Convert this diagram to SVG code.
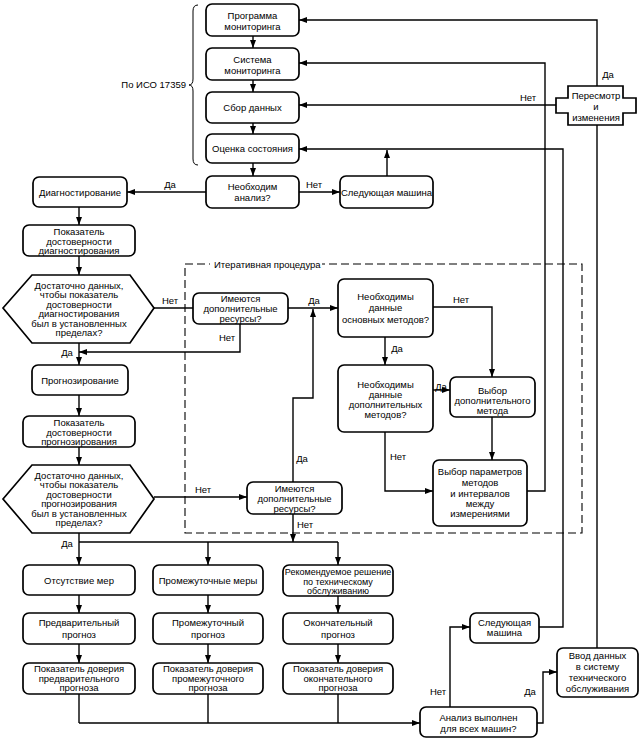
<svg xmlns="http://www.w3.org/2000/svg" width="642" height="742" viewBox="0 0 642 742">
<style>
.b{fill:#fff;stroke:#000;stroke-width:1.7}
.c{fill:none;stroke:#000;stroke-width:1.4}
.d{fill:none;stroke:#000;stroke-width:1.1;stroke-dasharray:8,4}
text{font-family:"Liberation Sans",Arial,sans-serif;font-size:9.5px;fill:#000}
.m{text-anchor:middle}
.s{font-size:9px}
</style>
<defs>
<marker id="a" viewBox="0 0 8 6" refX="8" refY="3" markerWidth="8" markerHeight="6" orient="auto" markerUnits="userSpaceOnUse"><path d="M0,0 L8,3 L0,6 z" fill="#000"/></marker>
</defs>
<rect width="642" height="742" fill="#fff"/>

<g id="iterative">
<rect class="d" x="185" y="264" width="397" height="269"/>
<rect x="210" y="258" width="112" height="12" fill="#fff"/>
<text x="214" y="268">Итеративная процедура</text>
</g>

<g id="brace">
<path class="c" style="stroke-width:1" d="M198,5 Q193,5 193,11 V79 Q193,85 189,85 Q193,85 193,91 V159 Q193,165 198,165"/>
<text x="186" y="88" text-anchor="end">По ИСО 17359</text>
</g>

<g id="connectors">
<path class="c" marker-end="url(#a)" d="M253,36 V48"/>
<path class="c" marker-end="url(#a)" d="M253,80 V92"/>
<path class="c" marker-end="url(#a)" d="M253,123 V134"/>
<path class="c" marker-end="url(#a)" d="M253,163 V176"/>
<path class="c" marker-end="url(#a)" d="M206,192 H127"/>
<path class="c" marker-end="url(#a)" d="M299,192 H340"/>
<path class="c" marker-end="url(#a)" d="M387,176 V150"/>
<path class="c" marker-end="url(#a)" d="M539,627 H563 V149 H299"/>
<path class="c" d="M597,648 V125"/>
<path class="c" marker-end="url(#a)" d="M597,86 V20 H299"/>
<path class="c" marker-end="url(#a)" d="M556,105 H299"/>
<path class="c" marker-end="url(#a)" d="M527,491 H545 V63 H299"/>
<path class="c" marker-end="url(#a)" d="M79,207 V225"/>
<path class="c" marker-end="url(#a)" d="M79,256 V275"/>
<path class="c" d="M154,308 H193"/>
<path class="c" marker-end="url(#a)" d="M79,343 V365"/>
<path class="c" marker-end="url(#a)" d="M240,324 V352 H79"/>
<path class="c" marker-end="url(#a)" d="M288,308 H338"/>
<path class="c" marker-end="url(#a)" d="M293,482 V398 H313 V309"/>
<path class="c" marker-end="url(#a)" d="M433,307 H492 V377"/>
<path class="c" marker-end="url(#a)" d="M385,337 V365"/>
<path class="c" marker-end="url(#a)" d="M433,390 H450"/>
<path class="c" marker-end="url(#a)" d="M385,432 V491 H433"/>
<path class="c" marker-end="url(#a)" d="M492,417 V460"/>
<path class="c" marker-end="url(#a)" d="M79,395 V416"/>
<path class="c" marker-end="url(#a)" d="M79,447 V465"/>
<path class="c" marker-end="url(#a)" d="M154,497 H247"/>
<path class="c" marker-end="url(#a)" d="M293,514 V542"/>
<path class="c" marker-end="url(#a)" d="M79,533 V565"/>
<path class="c" d="M79,542 H338"/>
<path class="c" marker-end="url(#a)" d="M208,542 V565"/>
<path class="c" marker-end="url(#a)" d="M338,542 V565"/>
<path class="c" marker-end="url(#a)" d="M79,595 V613"/>
<path class="c" marker-end="url(#a)" d="M208,595 V613"/>
<path class="c" marker-end="url(#a)" d="M338,596 V613"/>
<path class="c" marker-end="url(#a)" d="M79,644 V663"/>
<path class="c" marker-end="url(#a)" d="M208,644 V663"/>
<path class="c" marker-end="url(#a)" d="M338,644 V663"/>
<path class="c" d="M79,694 V723"/>
<path class="c" d="M208,694 V723"/>
<path class="c" d="M338,694 V723"/>
<path class="c" marker-end="url(#a)" d="M79,723 H420"/>
<path class="c" marker-end="url(#a)" d="M450,707 V627 H470"/>
<path class="c" marker-end="url(#a)" d="M537,723 H543 V672 H557"/>
<text x="170" y="188" class="m">Да</text>
<text x="314" y="188" class="m">Нет</text>
<text x="608" y="78" class="m">Да</text>
<text x="528" y="101" class="m">Нет</text>
<text x="170" y="304" class="m">Нет</text>
<text x="67" y="356" class="m">Да</text>
<text x="227" y="341" class="m">Нет</text>
<text x="314" y="304" class="m">Да</text>
<text x="302" y="462" class="m">Да</text>
<text x="461" y="303" class="m">Нет</text>
<text x="397" y="352" class="m">Да</text>
<text x="441" y="390" class="m">Да</text>
<text x="398" y="460" class="m">Нет</text>
<text x="203" y="493" class="m">Нет</text>
<text x="305" y="528" class="m">Нет</text>
<text x="67" y="547" class="m">Да</text>
<text x="438" y="695" class="m">Нет</text>
<text x="530" y="695" class="m">Да</text>
</g>

<g id="prog"><rect class="b" x="206" y="4" width="93" height="32" rx="6"/><text class="m" x="252.5" y="18.5">Программа</text><text class="m" x="252.5" y="29.5">мониторинга</text></g>
<g id="sys"><rect class="b" x="206" y="48" width="93" height="32" rx="6"/><text class="m" x="252.5" y="62.5">Система</text><text class="m" x="252.5" y="73.5">мониторинга</text></g>
<g id="sbor"><rect class="b" x="206" y="92" width="93" height="31" rx="6"/><text class="m" x="252.5" y="111">Сбор данных</text></g>
<g id="ocenka"><rect class="b" x="206" y="134" width="93" height="29" rx="6"/><text class="m" x="252.5" y="152">Оценка состояния</text></g>
<g id="neobh"><rect class="b" x="206" y="176" width="93" height="32" rx="6"/><text class="m" x="252.5" y="189.5">Необходим</text><text class="m" x="252.5" y="201">анализ?</text></g>
<g id="next1"><rect class="b" x="340" y="176" width="93" height="32" rx="6"/><text class="m" x="386.5" y="195.5">Следующая машина</text></g>
<g id="review"><path class="b" d="M568,86 H623 V98 H636 V113 H623 V125 H568 V113 H556 V98 H568 Z"/><text class="m" x="596" y="98.5">Пересмотр</text><text class="m" x="596" y="109.5">и</text><text class="m" x="596" y="120.5">изменения</text></g>
<g id="diag"><rect class="b" x="33" y="177" width="94" height="30" rx="6"/><text class="m" x="80" y="195.5">Диагностирование</text></g>
<g id="pokdiag"><rect class="b" x="23" y="225" width="112" height="31" rx="6"/><text class="m" x="79" y="235">Показатель</text><text class="m" x="79" y="244.5">достоверности</text><text class="m" x="79" y="254">диагностирования</text></g>
<g id="hex1"><polygon class="b" points="3,308 32,275 130,275 154,308 130,343 32,343"/><text class="m" x="79" y="288.5">Достаточно данных,</text><text class="m" x="79" y="298">чтобы показатель</text><text class="m" x="79" y="307.5">достоверности</text><text class="m" x="79" y="317">диагностирования</text><text class="m" x="79" y="326.5">был в установленных</text><text class="m" x="79" y="336">пределах?</text></g>
<g id="res1"><rect class="b" x="193" y="293" width="95" height="31" rx="6"/><text class="m" x="240.5" y="301.5">Имеются</text><text class="m" x="240.5" y="311.5">дополнительные</text><text class="m" x="240.5" y="321.5">ресурсы?</text></g>
<g id="osn"><rect class="b" x="338" y="279" width="95" height="58" rx="6"/><text class="m" x="385.5" y="299.5">Необходимы</text><text class="m" x="385.5" y="311">данные</text><text class="m" x="385.5" y="322.5">основных методов?</text></g>
<g id="dop"><rect class="b" x="338" y="365" width="95" height="67" rx="6"/><text class="m" x="385.5" y="387.5">Необходимы</text><text class="m" x="385.5" y="397.5">данные</text><text class="m" x="385.5" y="407.5">дополнительных</text><text class="m" x="385.5" y="417.5">методов?</text></g>
<g id="vybdop"><rect class="b" x="450" y="377" width="85" height="40" rx="6"/><text class="m" x="492.5" y="393.5">Выбор</text><text class="m" x="492.5" y="403.5">дополнительного</text><text class="m" x="492.5" y="413.5">метода</text></g>
<g id="vybpar"><rect class="b" x="433" y="460" width="94" height="66" rx="6"/><text class="m" x="480" y="474.5">Выбор параметров</text><text class="m" x="480" y="485.5">методов</text><text class="m" x="480" y="496.5">и интервалов</text><text class="m" x="480" y="506.5">между</text><text class="m" x="480" y="516.5">измерениями</text></g>
<g id="prog2"><rect class="b" x="32" y="365" width="96" height="30" rx="6"/><text class="m" x="80" y="383.5">Прогнозирование</text></g>
<g id="pokprog"><rect class="b" x="23" y="416" width="112" height="31" rx="6"/><text class="m" x="79" y="426">Показатель</text><text class="m" x="79" y="435.5">достоверности</text><text class="m" x="79" y="445">прогнозирования</text></g>
<g id="hex2"><polygon class="b" points="3,499 32,465 130,465 154,499 130,533 32,533"/><text class="m" x="79" y="478.5">Достаточно данных,</text><text class="m" x="79" y="488">чтобы показатель</text><text class="m" x="79" y="497.5">достоверности</text><text class="m" x="79" y="507">прогнозирования</text><text class="m" x="79" y="516.5">был в установленных</text><text class="m" x="79" y="526">пределах?</text></g>
<g id="res2"><rect class="b" x="247" y="482" width="95" height="32" rx="6"/><text class="m" x="294.5" y="491.5">Имеются</text><text class="m" x="294.5" y="502">дополнительные</text><text class="m" x="294.5" y="512">ресурсы?</text></g>
<g id="c1a"><rect class="b" x="23" y="565" width="112" height="30" rx="6"/><text class="m" x="79" y="583.5">Отсутствие мер</text></g>
<g id="c2a"><rect class="b" x="153" y="565" width="110" height="30" rx="6"/><text class="m" x="208" y="583.5">Промежуточные меры</text></g>
<g id="c3a"><rect class="b" x="283" y="565" width="110" height="31" rx="6"/><text class="m s" x="338" y="575">Рекомендуемое решение</text><text class="m s" x="338" y="584.5">по техническому</text><text class="m s" x="338" y="594">обслуживанию</text></g>
<g id="c1b"><rect class="b" x="23" y="613" width="112" height="31" rx="6"/><text class="m" x="79" y="625.5">Предварительный</text><text class="m" x="79" y="637.5">прогноз</text></g>
<g id="c2b"><rect class="b" x="153" y="613" width="110" height="31" rx="6"/><text class="m" x="208" y="625.5">Промежуточный</text><text class="m" x="208" y="637.5">прогноз</text></g>
<g id="c3b"><rect class="b" x="283" y="613" width="110" height="31" rx="6"/><text class="m" x="338" y="625.5">Окончательный</text><text class="m" x="338" y="637.5">прогноз</text></g>
<g id="c1c"><rect class="b" x="23" y="663" width="112" height="31" rx="6"/><text class="m" x="79" y="671.5">Показатель доверия</text><text class="m" x="79" y="681.5">предварительного</text><text class="m" x="79" y="691">прогноза</text></g>
<g id="c2c"><rect class="b" x="153" y="663" width="110" height="31" rx="6"/><text class="m" x="208" y="671.5">Показатель доверия</text><text class="m" x="208" y="681.5">промежуточного</text><text class="m" x="208" y="691">прогноза</text></g>
<g id="c3c"><rect class="b" x="283" y="663" width="110" height="31" rx="6"/><text class="m" x="338" y="671.5">Показатель доверия</text><text class="m" x="338" y="681.5">окончательного</text><text class="m" x="338" y="691">прогноза</text></g>
<g id="analiz"><rect class="b" x="420" y="707" width="117" height="30" rx="6"/><text class="m" x="478.5" y="721">Анализ выполнен</text><text class="m" x="478.5" y="731.5">для всех машин?</text></g>
<g id="next2"><rect class="b" x="470" y="613" width="69" height="30" rx="6"/><text class="m" x="504.5" y="625.5">Следующая</text><text class="m" x="504.5" y="635.5">машина</text></g>
<g id="vvod"><rect class="b" x="557" y="648" width="81" height="49" rx="6"/><text class="m" x="597.5" y="658.5">Ввод данных</text><text class="m" x="597.5" y="669.5">в систему</text><text class="m" x="597.5" y="680.5">технического</text><text class="m" x="597.5" y="691.5">обслуживания</text></g>
</svg>
